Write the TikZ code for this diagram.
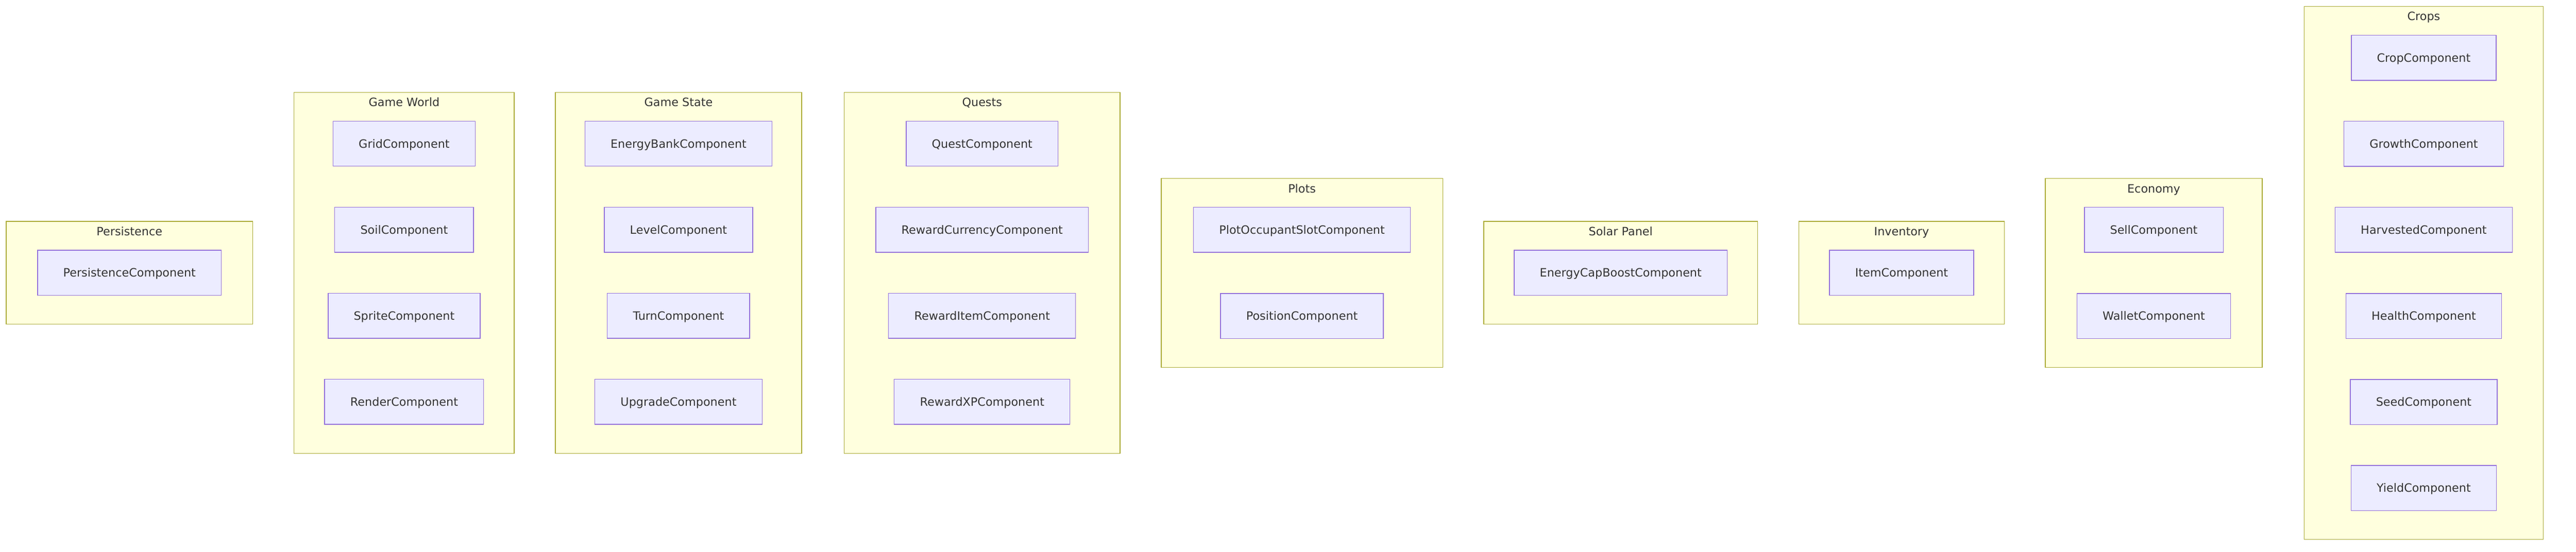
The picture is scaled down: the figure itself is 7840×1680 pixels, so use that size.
\documentclass[tikz,border=0pt]{standalone}
\usepackage{fontspec}
\setmainfont{DejaVu Sans}
\definecolor{clusterFill}{HTML}{FFFFDE}
\definecolor{clusterStroke}{HTML}{AAAA33}
\definecolor{nodeFill}{HTML}{ECECFF}
\definecolor{nodeStroke}{HTML}{9370DB}
\definecolor{textc}{HTML}{333333}
\tikzset{
  clusterbox/.style={draw=clusterStroke, fill=clusterFill, line width=0.55pt},
  clustertitle/.style={anchor=base, inner sep=0pt, text=textc, font=\fontsize{8.75pt}{10pt}\selectfont},
  comp/.style={draw=nodeStroke, fill=nodeFill, line width=0.55pt, minimum height=34.25pt,
    inner xsep=19.5pt, inner ysep=0pt, text height=6.38pt, text depth=0pt,
    text=textc, font=\fontsize{8.75pt}{10pt}\selectfont}
}
\begin{document}
\begin{tikzpicture}[x=0.25pt, y=-0.25pt]
\useasboundingbox[fill=white] (0,0) rectangle (7840,1680);

% Persistence
\draw[clusterbox] (19,674) rectangle (769,987);
\node[clustertitle] (tPersist) at (394,717) {Persistence};
\node[comp] (PersistenceComponent) at (394,830.5) {PersistenceComponent};

% Game World
\draw[clusterbox] (895,281.5) rectangle (1565,1380.5);
\node[clustertitle] (tWorld) at (1230,324.5) {Game World};
\node[comp] (GridComponent) at (1230,437.5) {GridComponent};
\node[comp] (SoilComponent) at (1230,699.5) {SoilComponent};
\node[comp] (SpriteComponent) at (1230,961.5) {SpriteComponent};
\node[comp] (RenderComponent) at (1230,1223.5) {RenderComponent};

% Game State
\draw[clusterbox] (1690,281.5) rectangle (2440,1380.5);
\node[clustertitle] (tState) at (2065,324.5) {Game State};
\node[comp] (EnergyBankComponent) at (2065,437.5) {EnergyBankComponent};
\node[comp] (LevelComponent) at (2065,699.5) {LevelComponent};
\node[comp] (TurnComponent) at (2065,961.5) {TurnComponent};
\node[comp] (UpgradeComponent) at (2065,1223.5) {UpgradeComponent};

% Quests
\draw[clusterbox] (2569,281.5) rectangle (3409,1380.5);
\node[clustertitle] (tQuests) at (2989,324.5) {Quests};
\node[comp] (QuestComponent) at (2989,437.5) {QuestComponent};
\node[comp] (RewardCurrencyComponent) at (2989,699.5) {RewardCurrencyComponent};
\node[comp] (RewardItemComponent) at (2989,961.5) {RewardItemComponent};
\node[comp] (RewardXPComponent) at (2989,1223.5) {RewardXPComponent};

% Plots
\draw[clusterbox] (3534,543.5) rectangle (4391,1118.5);
\node[clustertitle] (tPlots) at (3962.5,586.5) {Plots};
\node[comp] (PlotOccupantSlotComponent) at (3962.5,700) {PlotOccupantSlotComponent};
\node[comp] (PositionComponent) at (3962.5,962) {PositionComponent};

% Solar Panel
\draw[clusterbox] (4516,674) rectangle (5349,987);
\node[clustertitle] (tSolar) at (4932.5,717) {Solar Panel};
\node[comp] (EnergyCapBoostComponent) at (4932.5,830.5) {EnergyCapBoostComponent};

% Inventory
\draw[clusterbox] (5475,674) rectangle (6100,987);
\node[clustertitle] (tInventory) at (5787.5,717) {Inventory};
\node[comp] (ItemComponent) at (5787.5,830.5) {ItemComponent};

% Economy
\draw[clusterbox] (6225,543.5) rectangle (6885,1118.5);
\node[clustertitle] (tEconomy) at (6555,586.5) {Economy};
\node[comp] (SellComponent) at (6555,700) {SellComponent};
\node[comp] (WalletComponent) at (6555,962) {WalletComponent};

% Crops
\draw[clusterbox] (7013,19.5) rectangle (7740,1642.5);
\node[clustertitle] (tCrops) at (7376.5,62.5) {Crops};
\node[comp] (CropComponent) at (7376.5,176) {CropComponent};
\node[comp] (GrowthComponent) at (7376.5,438) {GrowthComponent};
\node[comp] (HarvestedComponent) at (7376.5,700) {HarvestedComponent};
\node[comp] (HealthComponent) at (7376.5,962) {HealthComponent};
\node[comp] (SeedComponent) at (7376.5,1224) {SeedComponent};
\node[comp] (YieldComponent) at (7376.5,1486) {YieldComponent};
\end{tikzpicture}
\end{document}
